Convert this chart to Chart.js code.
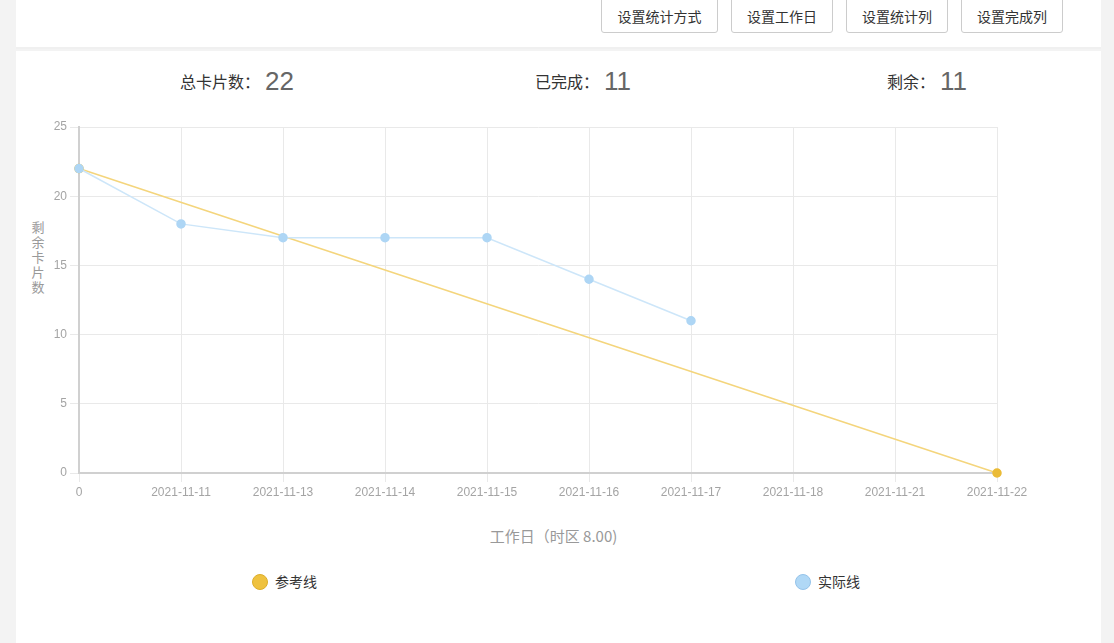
<!DOCTYPE html>
<html>
<head>
<meta charset="utf-8">
<script src="https://cdn.jsdelivr.net/npm/chart.js@4"></script>
<style>
  html, body { margin: 0; padding: 0; }
  body {
    width: 1114px; height: 643px; overflow: hidden; position: relative;
    background: #f3f3f3;
    font-family: "Noto Sans CJK SC", "Liberation Sans", sans-serif;
  }
  .top {
    position: absolute; left: 16px; top: 0; width: 1085px; height: 47px;
    background: #fff; border-bottom: 2px solid #f0f0f0;
  }
  .btn {
    position: absolute; top: -4px; height: 37px; box-sizing: border-box;
    border: 1px solid #ccc; border-radius: 3px; background: #fff;
    font-size: 14px; color: #333; line-height: 38px; text-align: center;
  }
  .panel {
    position: absolute; left: 16px; top: 51px; width: 1085px; height: 600px;
    background: #fff;
  }
  .stat { position: absolute; top: 15px; font-size: 16px; color: #333; white-space: nowrap; }
  .stat b { font-weight: normal; font-size: 26px; color: #666; font-family: "Liberation Sans", sans-serif; vertical-align: -2px; margin-left: 5px; }
  .ytitle {
    position: absolute; left: 15px; top: 168px; width: 14px;
    font-size: 13px; line-height: 15px; color: #999; text-align: center;
  }
  .xtitle {
    position: absolute; left: -5px; width: 1085px; top: 474px; text-align: center;
    font-size: 15px; color: #999;
  }
  .legend { position: absolute; top: 520px; font-size: 14px; color: #333; white-space: nowrap; }
  .legend i {
    display: inline-block; width: 16px; height: 16px; border-radius: 50%;
    vertical-align: -3px; margin-right: 7px; box-sizing: border-box;
  }
  #wrap { position: absolute; left: 0; top: 59px; width: 1085px; height: 400px; }
</style>
</head>
<body>
<div class="top">
  <div class="btn" style="left:585px;width:117px;">设置统计方式</div>
  <div class="btn" style="left:715px;width:102px;">设置工作日</div>
  <div class="btn" style="left:830px;width:102px;">设置统计列</div>
  <div class="btn" style="left:945px;width:102px;">设置完成列</div>
</div>
<div class="panel">
  <div class="stat" style="left:164px;">总卡片数：<b>22</b></div>
  <div class="stat" style="left:519px;">已完成：<b>11</b></div>
  <div class="stat" style="left:871px;">剩余：<b>11</b></div>
  <div class="ytitle">剩余卡片数</div>
  <div id="wrap"><canvas id="chart"></canvas></div>
  <div class="xtitle">工作日（时区 8.00)</div>
  <div class="legend" style="left:236px;"><i style="background:#efc23f;border:1px solid #ddae2a;"></i>参考线</div>
  <div class="legend" style="left:779px;"><i style="background:#b0d8f6;border:1px solid #95c3ea;"></i>实际线</div>
</div>
<script>
const categories = ["0", "2021-11-11", "2021-11-13", "2021-11-14", "2021-11-15",
    "2021-11-16", "2021-11-17", "2021-11-18", "2021-11-21", "2021-11-22"];
const referenceValues = [22, null, null, null, null, null, null, null, null, 0];
const actualValues = [22, 18, 17, 17, 17, 14, 11];
const yMax = 25;
const yStep = 5;

const chart = document.getElementById("chart");

new Chart(chart, {
    type: "line",
    data: {
        labels: categories,
        datasets: [{
            label: "参考线",
            data: referenceValues,
            spanGaps: true,
            clip: false,
            borderWidth: 1.5,
            borderColor: "#f4d57c",
            backgroundColor: "#ebbb36",
            pointBorderColor: "#ebbb36",
            pointRadius: 4,
            pointHoverRadius: 4,
            order: 2,
        }, {
            label: "实际线",
            data: actualValues,
            clip: false,
            borderWidth: 1.5,
            borderColor: "#cde6f9",
            backgroundColor: "#aed6f5",
            pointBorderColor: "#aed6f5",
            pointRadius: 4,
            pointHoverRadius: 4,
            order: 1,
        }]
    },
    options: {
        responsive: true,
        maintainAspectRatio: false,
        animation: false,
        layout: {
            padding: { top: 17, right: 104, left: 0, bottom: 0 }
        },
        plugins: {
            legend: { display: false },
            tooltip: { enabled: false },
        },
        scales: {
            x: {
                grid: { color: "#e9e9e9", tickLength: 9, tickColor: "#e9e9e9" },
                border: { color: "#d0d0d0", width: 2 },
                ticks: {
                    color: "#a4a4a4", padding: 3, maxRotation: 0, autoSkip: false,
                    font: { family: "Liberation Sans", size: 12 }
                },
                afterFit: s => { s.height = 37; }
            },
            y: {
                min: 0,
                max: yMax,
                grid: { color: "#e9e9e9", tickLength: 9, tickColor: "#e9e9e9" },
                border: { color: "#d0d0d0", width: 2 },
                ticks: {
                    stepSize: yStep, color: "#a4a4a4", padding: 3,
                    font: { family: "Liberation Sans", size: 12 }
                },
                afterFit: s => { s.width = 63; }
            }
        }
    }
});
</script>
</body>
</html>
